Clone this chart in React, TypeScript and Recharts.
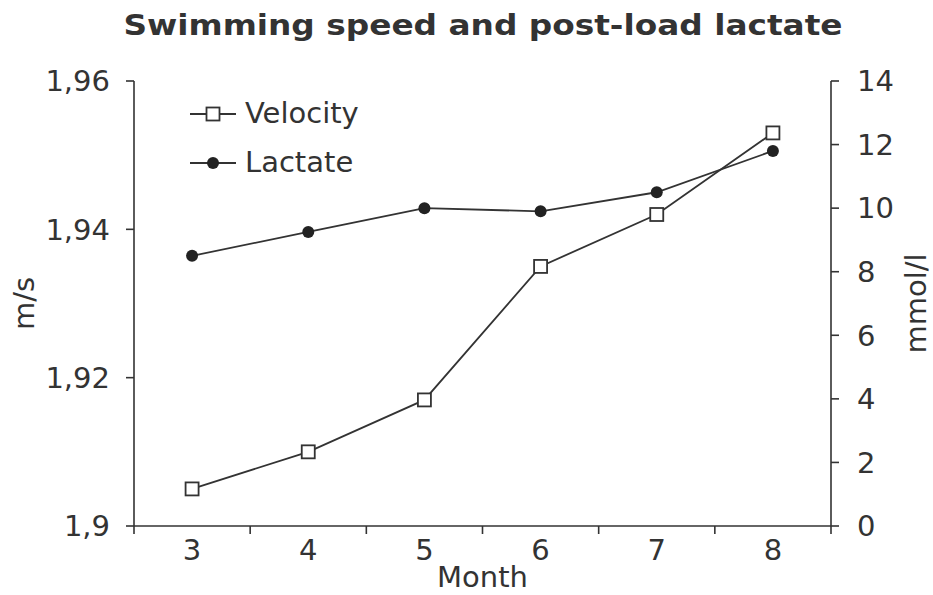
import { LineChart, Line, XAxis, YAxis, Legend, Label } from 'recharts';

const months = [3, 4, 5, 6, 7, 8];
const velocity = [1.905, 1.91, 1.917, 1.935, 1.942, 1.953];
const lactate = [8.5, 9.25, 10.0, 9.9, 10.5, 11.8];
const speedTicks = [1.9, 1.92, 1.94, 1.96];
const lactateTicks = [0, 2, 4, 6, 8, 10, 12, 14];

const data = months.map((m, i) => ({ month: m, velocity: velocity[i], lactate: lactate[i] }));

// labels sit on the months, tick marks sit halfway between them
const monthTicks = [months[0] - 0.5, ...months.flatMap((m) => [m, m + 0.5])];

const INK = '#333';
const FONT = '"DejaVu Sans", sans-serif';

const SquareDot = (props: any) => {
  const { cx, cy, index } = props;
  if (cx == null || cy == null) return null;
  return <rect key={index} x={cx - 6.5} y={cy - 6.5} width={13} height={13} fill="#fff" stroke={INK} strokeWidth={1.8} />;
};

const RoundDot = (props: any) => {
  const { cx, cy, index } = props;
  if (cx == null || cy == null) return null;
  return <circle key={index} cx={cx} cy={cy} r={6} fill="#222" />;
};

const MonthTick = (props: any) => {
  const { x, y, payload } = props;
  const v = payload.value;
  if (Number.isInteger(v)) {
    return (
      <text x={x} y={y} dy="0.71em" textAnchor="middle" fill={INK} fontSize={29} fontFamily={FONT}>
        {v}
      </text>
    );
  }
  // y is axis + tickSize + tickMargin
  return <line x1={x} x2={x} y1={y - 13} y2={y - 5} stroke={INK} strokeWidth={1.6} />;
};

const LegendContent = () => {
  const items = [
    { key: 'velocity', label: 'Velocity' },
    { key: 'lactate', label: 'Lactate' },
  ];
  return (
    <div>
      {items.map((it) => (
        <div key={it.key} style={{ display: 'flex', alignItems: 'center', height: 49 }}>
          <svg width={48} height={20} style={{ marginRight: 8 }}>
            <line x1={1} x2={47} y1={10} y2={10} stroke={INK} strokeWidth={1.8} />
            {it.key === 'velocity' ? (
              <rect x={17.5} y={3.5} width={13} height={13} fill="#fff" stroke={INK} strokeWidth={1.8} />
            ) : (
              <circle cx={24} cy={10} r={6} fill="#222" />
            )}
          </svg>
          <span style={{ fontSize: 29, color: INK, fontFamily: FONT, lineHeight: 1 }}>{it.label}</span>
        </div>
      ))}
    </div>
  );
};

export default function App() {
  return (
    <div style={{ position: 'absolute', left: 0, top: 0, width: 933, height: 595, background: '#fff' }}>
      <div
        style={{
          position: 'absolute',
          left: 483,
          top: 9,
          transform: 'translateX(-50%) scaleX(1.17)',
          whiteSpace: 'nowrap',
          fontFamily: FONT,
          fontWeight: 'bold',
          fontSize: 28,
          color: INK,
        }}
      >
        Swimming speed and post-load lactate
      </div>
      <LineChart width={933} height={595} data={data} margin={{ top: 81, right: 0, bottom: 0, left: 0 }}>
        <XAxis
          dataKey="month"
          type="number"
          domain={[2.5, 8.5]}
          ticks={monthTicks}
          interval={0}
          tick={<MonthTick />}
          tickLine={false}
          tickSize={8}
          tickMargin={5}
          height={69}
          axisLine={{ stroke: INK, strokeWidth: 1.6 }}
        >
          <Label value="Month" position="insideBottom" offset={8} fill={INK} fontSize={29} fontFamily={FONT} />
        </XAxis>
        <YAxis
          yAxisId="speed"
          domain={[1.9, 1.96]}
          ticks={speedTicks}
          interval={0}
          width={134}
          tickSize={8}
          tickMargin={16}
          tickFormatter={(v: number) => String(v).replace('.', ',')}
          tick={{ fill: INK, fontSize: 29, fontFamily: FONT }}
          axisLine={{ stroke: INK, strokeWidth: 1.6 }}
          tickLine={{ stroke: INK, strokeWidth: 1.6 }}
        >
          <Label
            value="m/s"
            angle={-90}
            position="insideLeft"
            offset={24}
            fill={INK}
            fontSize={29}
            fontFamily={FONT}
            style={{ textAnchor: 'middle' }}
          />
        </YAxis>
        <YAxis
          yAxisId="lac"
          orientation="right"
          domain={[0, 14]}
          ticks={lactateTicks}
          interval={0}
          width={102}
          tickSize={8}
          tickMargin={18}
          tick={{ fill: INK, fontSize: 29, fontFamily: FONT }}
          axisLine={{ stroke: INK, strokeWidth: 1.6 }}
          tickLine={{ stroke: INK, strokeWidth: 1.6 }}
        >
          <Label
            value="mmol/l"
            angle={-90}
            position="insideRight"
            offset={17}
            fill={INK}
            fontSize={29}
            fontFamily={FONT}
            style={{ textAnchor: 'middle' }}
          />
        </YAxis>
        <Legend
          layout="vertical"
          align="center"
          verticalAlign="middle"
          content={<LegendContent />}
          wrapperStyle={{ left: 189, top: 89, width: 'auto' }}
        />
        <Line
          yAxisId="speed"
          dataKey="velocity"
          name="Velocity"
          type="linear"
          stroke={INK}
          strokeWidth={1.8}
          dot={<SquareDot />}
          activeDot={false}
          isAnimationActive={false}
        />
        <Line
          yAxisId="lac"
          dataKey="lactate"
          name="Lactate"
          type="linear"
          stroke={INK}
          strokeWidth={1.8}
          dot={<RoundDot />}
          activeDot={false}
          isAnimationActive={false}
        />
      </LineChart>
    </div>
  );
}
